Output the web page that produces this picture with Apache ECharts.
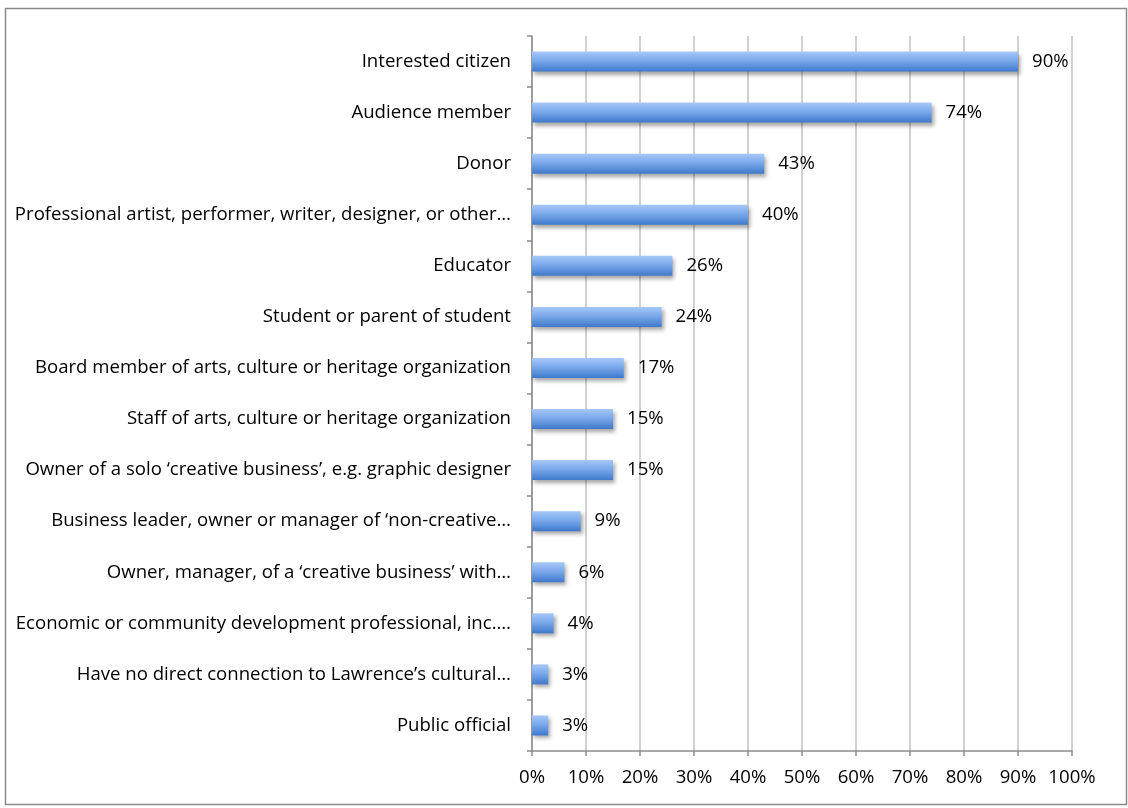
<!DOCTYPE html>
<html>
<head>
<meta charset="utf-8">
<script src="https://cdn.jsdelivr.net/npm/echarts@6/dist/echarts.min.js"></script>
<style>
  html, body { margin: 0; padding: 0; background: #fff; }
  #chart { width: 1128px; height: 808px; }
</style>
</head>
<body>
<div id="chart"></div>
<script>
// Respondent roles, listed top to bottom
const categories = [
  "Interested citizen",
  "Audience member",
  "Donor",
  "Professional artist, performer, writer, designer, or other\u2026",
  "Educator",
  "Student or parent of student",
  "Board member of arts, culture or heritage organization",
  "Staff of arts, culture or heritage organization",
  "Owner of a solo \u2018creative business\u2019, e.g. graphic designer",
  "Business leader, owner or manager of \u2018non-creative\u2026",
  "Owner, manager, of a \u2018creative business\u2019 with\u2026",
  "Economic or community development professional, inc.\u2026",
  "Have no direct connection to Lawrence\u2019s cultural\u2026",
  "Public official"
];
// Share of respondents (%)
const values = [90, 74, 43, 40, 26, 24, 17, 15, 15, 9, 6, 4, 3, 3];

const FONT = "Open Sans";
const FONT_SIZE = 18.6;
const chart = echarts.init(document.getElementById("chart"));

chart.setOption({
  animation: false,
  backgroundColor: "#ffffff",
  graphic: [{
    type: "rect",
    left: 3, top: 6,
    shape: { width: 1121, height: 796 },
    style: { fill: "none", stroke: "#8a8a8a", lineWidth: 1.5 },
    silent: true
  }],
  grid: { left: 532, right: 56, top: 36, bottom: 57, containLabel: false },
  xAxis: {
    type: "value",
    min: 0, max: 100, interval: 10,
    axisLine: { show: true, lineStyle: { color: "#8c8c8c", width: 1.5 } },
    axisTick: { show: true, length: 5, lineStyle: { color: "#8c8c8c", width: 1.5 } },
    axisLabel: { formatter: "{value}%", color: "#000", fontFamily: FONT, fontSize: FONT_SIZE, margin: 17 },
    splitLine: { show: true, lineStyle: { color: "#c0c0c0", width: 1.5 } }
  },
  yAxis: {
    type: "category",
    inverse: true,
    data: categories,
    axisLine: { show: true, lineStyle: { color: "#8c8c8c", width: 1.5 } },
    axisTick: { show: true, length: 5, lineStyle: { color: "#8c8c8c", width: 1.5 } },
    axisLabel: { color: "#000", fontFamily: FONT, fontSize: FONT_SIZE, margin: 21 }
  },
  series: [{
    type: "bar",
    data: values,
    barWidth: 20,
    itemStyle: {
      color: new echarts.graphic.LinearGradient(0, 0, 0, 1, [
        { offset: 0, color: "#a6c8f7" },
        { offset: 0.45, color: "#7aa9ec" },
        { offset: 1, color: "#3f79cb" }
      ]),
      shadowColor: "rgba(0,0,0,0.35)",
      shadowBlur: 4,
      shadowOffsetX: 2,
      shadowOffsetY: 3
    },
    label: {
      show: true,
      position: "right",
      distance: 14,
      formatter: "{c}%",
      color: "#000",
      fontFamily: FONT,
      fontSize: FONT_SIZE
    }
  }]
});
</script>
</body>
</html>
